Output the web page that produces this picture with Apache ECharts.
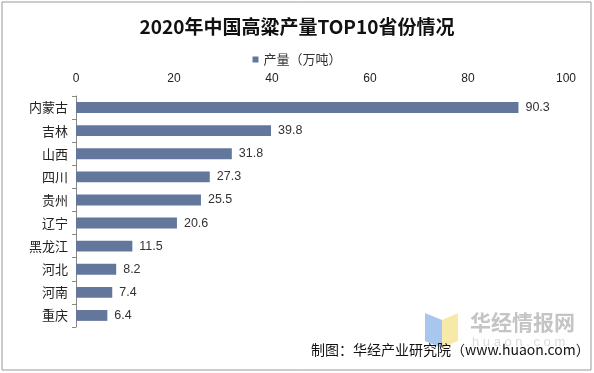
<!DOCTYPE html>
<html><head><meta charset="utf-8">
<script src="https://cdn.jsdelivr.net/npm/echarts@6/dist/echarts.min.js"></script>
<style>html,body{margin:0;padding:0;background:#fff}#c{width:594px;height:373px}</style>
</head><body><div id="c"></div>
<script>
const titleText = '2020年中国高粱产量TOP10省份情况';
const seriesName = '产量（万吨）';
const categories = ['内蒙古','吉林','山西','四川','贵州','辽宁','黑龙江','河北','河南','重庆'];
const values = [90.3, 39.8, 31.8, 27.3, 25.5, 20.6, 11.5, 8.2, 7.4, 6.4];
const xTicks = [0, 20, 40, 60, 80, 100];
const sourceText = '制图：华经产业研究院（www.huaon.com）';

const chart = echarts.init(document.getElementById('c'));
chart.setOption({
  backgroundColor: '#fff',
  animation: false,
  title: {
    text: titleText, left: 'center', top: 12,
    textStyle: {fontFamily: 'Noto Sans CJK SC', fontWeight: 'bold', fontSize: 19, color: '#111'}
  },
  legend: {
    data: [seriesName], top: 48, left: 'center', icon: 'rect',
    itemWidth: 6, itemHeight: 6, itemGap: 3,
    textStyle: {fontFamily: 'Noto Sans CJK SC', fontSize: 13, color: '#333'}
  },
  grid: {left: 76, right: 28, top: 96, bottom: 46},
  xAxis: {
    type: 'value', position: 'top', min: xTicks[0], max: xTicks[xTicks.length-1], interval: 20,
    axisLine: {show: false}, axisTick: {show: false}, splitLine: {show: false},
    axisLabel: {fontFamily: 'Liberation Sans', fontSize: 12, color: '#222', margin: 11}
  },
  yAxis: {
    type: 'category', data: categories, inverse: true,
    axisLine: {show: true, lineStyle: {color: '#888'}},
    axisTick: {show: true, length: 4, lineStyle: {color: '#888'}},
    axisLabel: {fontFamily: 'Noto Sans CJK SC', fontSize: 13, color: '#222', margin: 8}
  },
  series: [{
    name: seriesName, type: 'bar', data: values, barWidth: '47%',
    itemStyle: {color: '#63779d'},
    label: {show: true, position: 'right', distance: 7,
      fontFamily: 'Liberation Sans', fontSize: 12.5, color: '#333'}
  }],
  graphic: [
    {type: 'rect', shape: {x: 2, y: 2, width: 589, height: 368}, style: {fill: 'none', stroke: '#999', lineWidth: 1}, z: 10},
    {type: 'polygon', shape: {points: [[425,313],[442,320],[442,348],[425,341]]}, style: {fill: '#a9c6ee'}, z: 1},
    {type: 'polygon', shape: {points: [[442,320],[458,313],[458,341],[442,348]]}, style: {fill: '#f7eaa8'}, z: 1},
    {type: 'text', left: 470, top: 312, style: {text: '华经情报网', font: 'bold 21px "Noto Sans CJK SC"', fill: '#c4c4c4'}, z: 1},
    {type: 'text', left: 472, top: 336, style: {text: 'h u a o n . c o m', font: '13px "Liberation Sans"', fill: '#dcdcdc'}, z: 1},
    {type: 'text', left: 311, top: 343, style: {text: sourceText, font: '14px "Noto Sans CJK SC"', fill: '#111'}, z: 5}
  ]
});
</script></body></html>
